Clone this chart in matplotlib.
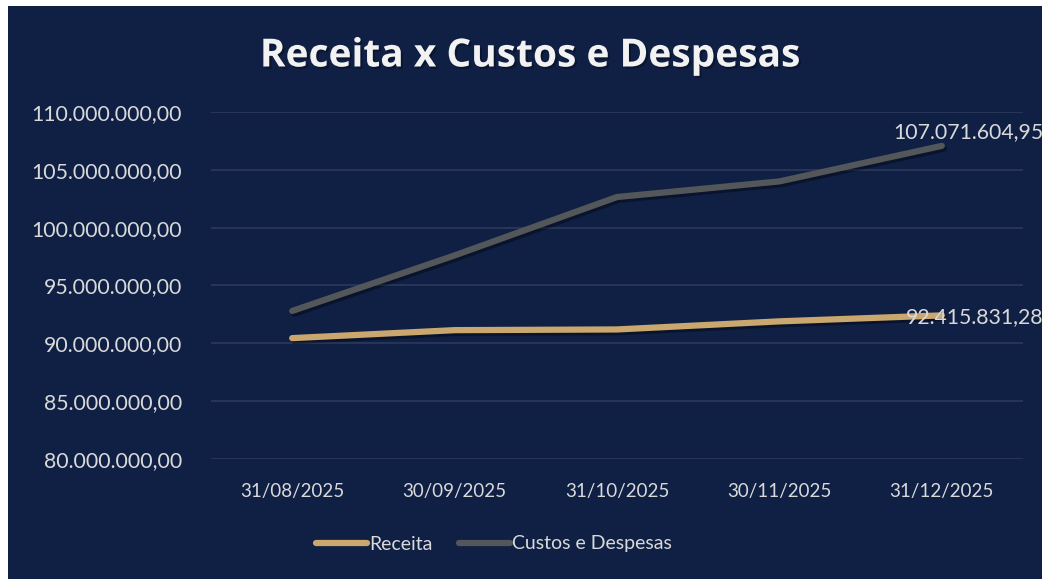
import matplotlib
matplotlib.use('Agg')
import matplotlib.pyplot as plt
import matplotlib.patheffects as pe
from matplotlib.patches import Rectangle
from matplotlib.ticker import FuncFormatter

plt.rcParams['font.family'] = ['Lato', 'DejaVu Sans']

# dados
datas = ['31/08/2025', '30/09/2025', '31/10/2025', '30/11/2025', '31/12/2025']
receita = [90450000, 91140000, 91200000, 91900000, 92415831.28]
custos = [92800000, 97600000, 102650000, 104000000, 107071604.95]

bg = '#0F2044'
cor_receita = '#C9A76F'
cor_custos = '#53575A'
cor_texto = '#D9D9D9'
cor_grade = '#2B3A5C'


def fmt_br(v, pos=None):
    s = f'{v:,.2f}'
    return s.replace(',', 'X').replace('.', ',').replace('X', '.')


fig = plt.figure(figsize=(10.42, 5.79), dpi=100, facecolor='white')
fig.patches.append(Rectangle((8 / 1042, 0), 1, 1 - 6 / 579, transform=fig.transFigure,
                             facecolor=bg, edgecolor='none', zorder=-10))

ax = fig.add_axes([211 / 1042, 1 - 459 / 579, (1023 - 211) / 1042, (459 - 112) / 579])
ax.set_facecolor(bg)
ax.patch.set_alpha(0)

x = list(range(len(datas)))
sombra = [pe.SimpleLineShadow(offset=(1.5, -2), shadow_color='black', alpha=0.35), pe.Normal()]
ax.plot(x, receita, color=cor_receita, lw=4.5, solid_capstyle='round', solid_joinstyle='round',
        label='Receita', path_effects=sombra, zorder=3)
ax.plot(x, custos, color=cor_custos, lw=4.5, solid_capstyle='round', solid_joinstyle='round',
        label='Custos e Despesas', path_effects=sombra, zorder=3)

ax.set_xlim(-0.5, 4.5)
ax.set_ylim(80000000, 110000000)
ax.set_yticks([80000000 + 5000000 * i for i in range(7)])
ax.yaxis.set_major_formatter(FuncFormatter(fmt_br))
ax.set_xticks(x)
ax.set_xticklabels(datas)
ax.grid(axis='y', color=cor_grade, lw=1.2)
ax.set_axisbelow(True)
for s in ax.spines.values():
    s.set_visible(False)
ax.tick_params(axis='both', length=0, colors=cor_texto)
ax.tick_params(axis='y', pad=21, labelsize=15.3)
ax.tick_params(axis='x', pad=17, labelsize=13.5)

ax.annotate(fmt_br(custos[-1]), (x[-1], custos[-1]), xytext=(-35, 10), textcoords='offset points',
            ha='left', va='center', color=cor_texto, fontsize=15.3, annotation_clip=False)
ax.annotate(fmt_br(receita[-1]), (x[-1], receita[-1]), xytext=(-26, -1), textcoords='offset points',
            ha='left', va='center', color=cor_texto, fontsize=15.3, annotation_clip=False)

fig.text(530 / 1042, 1 - 56 / 579, 'Receita x Custos e Despesas', ha='center', va='center',
         color='#F2F2F2', fontsize=28, fontweight='bold', family=['Open Sans', 'DejaVu Sans'],
         path_effects=[pe.SimplePatchShadow(offset=(1.5, -1.5), shadow_rgbFace='black', alpha=0.3), pe.Normal()])

leg = fig.legend(loc='center', bbox_to_anchor=(494 / 1042, 1 - 544 / 579), ncol=2, frameon=False,
                 fontsize=14, handlelength=2.6, handletextpad=0.1, columnspacing=1.4)
for t in leg.get_texts():
    t.set_color(cor_texto)
for h in leg.get_lines():
    h.set_linewidth(4.5)
    h.set_solid_capstyle('round')
    h.set_path_effects([])

fig.savefig('out.png', dpi=100, facecolor=fig.get_facecolor())
